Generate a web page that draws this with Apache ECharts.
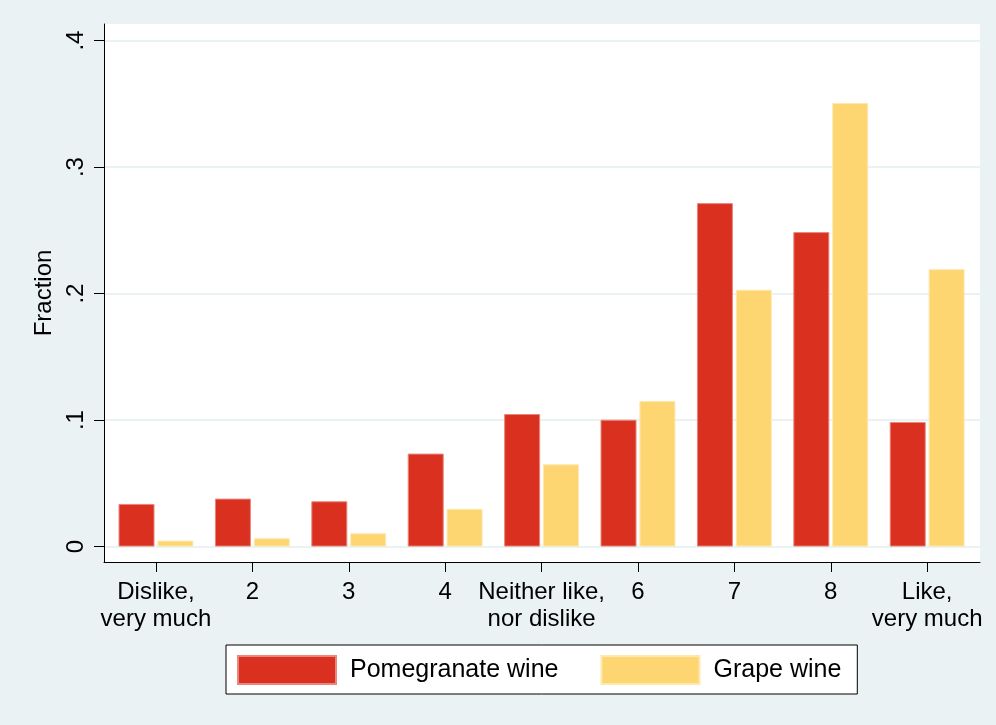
<!DOCTYPE html>
<html>
<head>
    <meta charset="utf-8" />
    <title>Fraction</title>
    <script src="https://cdn.jsdelivr.net/npm/echarts@6/dist/echarts.min.js"></script>
    <style>
        html, body { margin: 0; padding: 0; background: #EAF2F3; }
        #main { width: 996px; height: 725px; }
    </style>
</head>
<body>
    <div id="main"></div>
    <script>
        // categories and values
        var categories = ['Dislike,\nvery much', '2', '3', '4', 'Neither like,\nnor dislike', '6', '7', '8', 'Like,\nvery much'];
        var pomegranate = [0.0337, 0.0379, 0.0358, 0.0735, 0.1048, 0.1003, 0.2715, 0.2486, 0.0985];
        var grape = [0.0047, 0.0066, 0.0105, 0.0298, 0.0650, 0.1151, 0.2030, 0.3507, 0.2193];
        var yTicks = [0, 0.1, 0.2, 0.3, 0.4];
        var yTickLabels = ['0', '.1', '.2', '.3', '.4'];

        var catIdx = categories.map(function (c, i) { return i; });
        var font = 'Liberation Sans, Arial, sans-serif';

        var chart = echarts.init(document.getElementById('main'));
        var option = {
            backgroundColor: '#EAF2F3',
            textStyle: { fontFamily: font },
            animation: false,
            grid: {
                left: 104, right: 16, top: 24, bottom: 163,
                show: true, backgroundColor: '#fff', borderWidth: 0
            },
            legend: {
                left: 226, top: 645,
                padding: [10, 16, 9, 11],
                borderColor: '#000', borderWidth: 1,
                backgroundColor: '#fff',
                itemWidth: 98, itemHeight: 28, itemGap: 42,
                icon: 'rect',
                textStyle: { fontSize: 25, color: '#000', fontFamily: font, padding: [0, 0, 0, 9] },
                data: ['Pomegranate wine', 'Grape wine']
            },
            xAxis: {
                type: 'value',
                min: -0.539, max: 8.548,
                axisLine: { show: true, onZero: false, lineStyle: { color: '#000', width: 1 } },
                axisTick: { show: true, length: 10, customValues: catIdx, lineStyle: { color: '#000' } },
                axisLabel: {
                    customValues: catIdx,
                    margin: 17,
                    fontSize: 24, lineHeight: 27, color: '#000', fontFamily: font,
                    formatter: function (v) { return categories[Math.round(v)]; }
                },
                splitLine: { show: false }
            },
            yAxis: {
                type: 'value',
                min: -0.0122, max: 0.4131,
                name: 'Fraction',
                nameLocation: 'middle',
                nameGap: 48,
                nameRotate: 90,
                nameTextStyle: { fontSize: 24, color: '#000', fontFamily: font },
                axisLine: { show: true, onZero: false, lineStyle: { color: '#000', width: 1 } },
                axisTick: { show: true, length: 10, customValues: yTicks, lineStyle: { color: '#000' } },
                axisLabel: {
                    customValues: yTicks,
                    rotate: 90,
                    margin: 16,
                    fontSize: 24, color: '#000', fontFamily: font,
                    formatter: function (v) {
                        var i = yTicks.findIndex(function (t) { return Math.abs(t - v) < 1e-6; });
                        return i >= 0 ? yTickLabels[i] : '';
                    }
                },
                splitLine: { show: true, lineStyle: { color: '#EAF2F3', width: 2 } }
            },
            series: [
                {
                    name: 'Pomegranate wine',
                    type: 'bar',
                    barWidth: 36,
                    barGap: '8%',
                    itemStyle: { color: '#D9301F', borderColor: '#E8877D', borderWidth: 1 },
                    data: pomegranate.map(function (v, i) { return [i, v]; })
                },
                {
                    name: 'Grape wine',
                    type: 'bar',
                    barWidth: 36,
                    barGap: '8%',
                    itemStyle: { color: '#FDD672', borderColor: '#FEE8AE', borderWidth: 1 },
                    data: grape.map(function (v, i) { return [i, v]; })
                }
            ]
        };
        chart.setOption(option);
    </script>
</body>
</html>
